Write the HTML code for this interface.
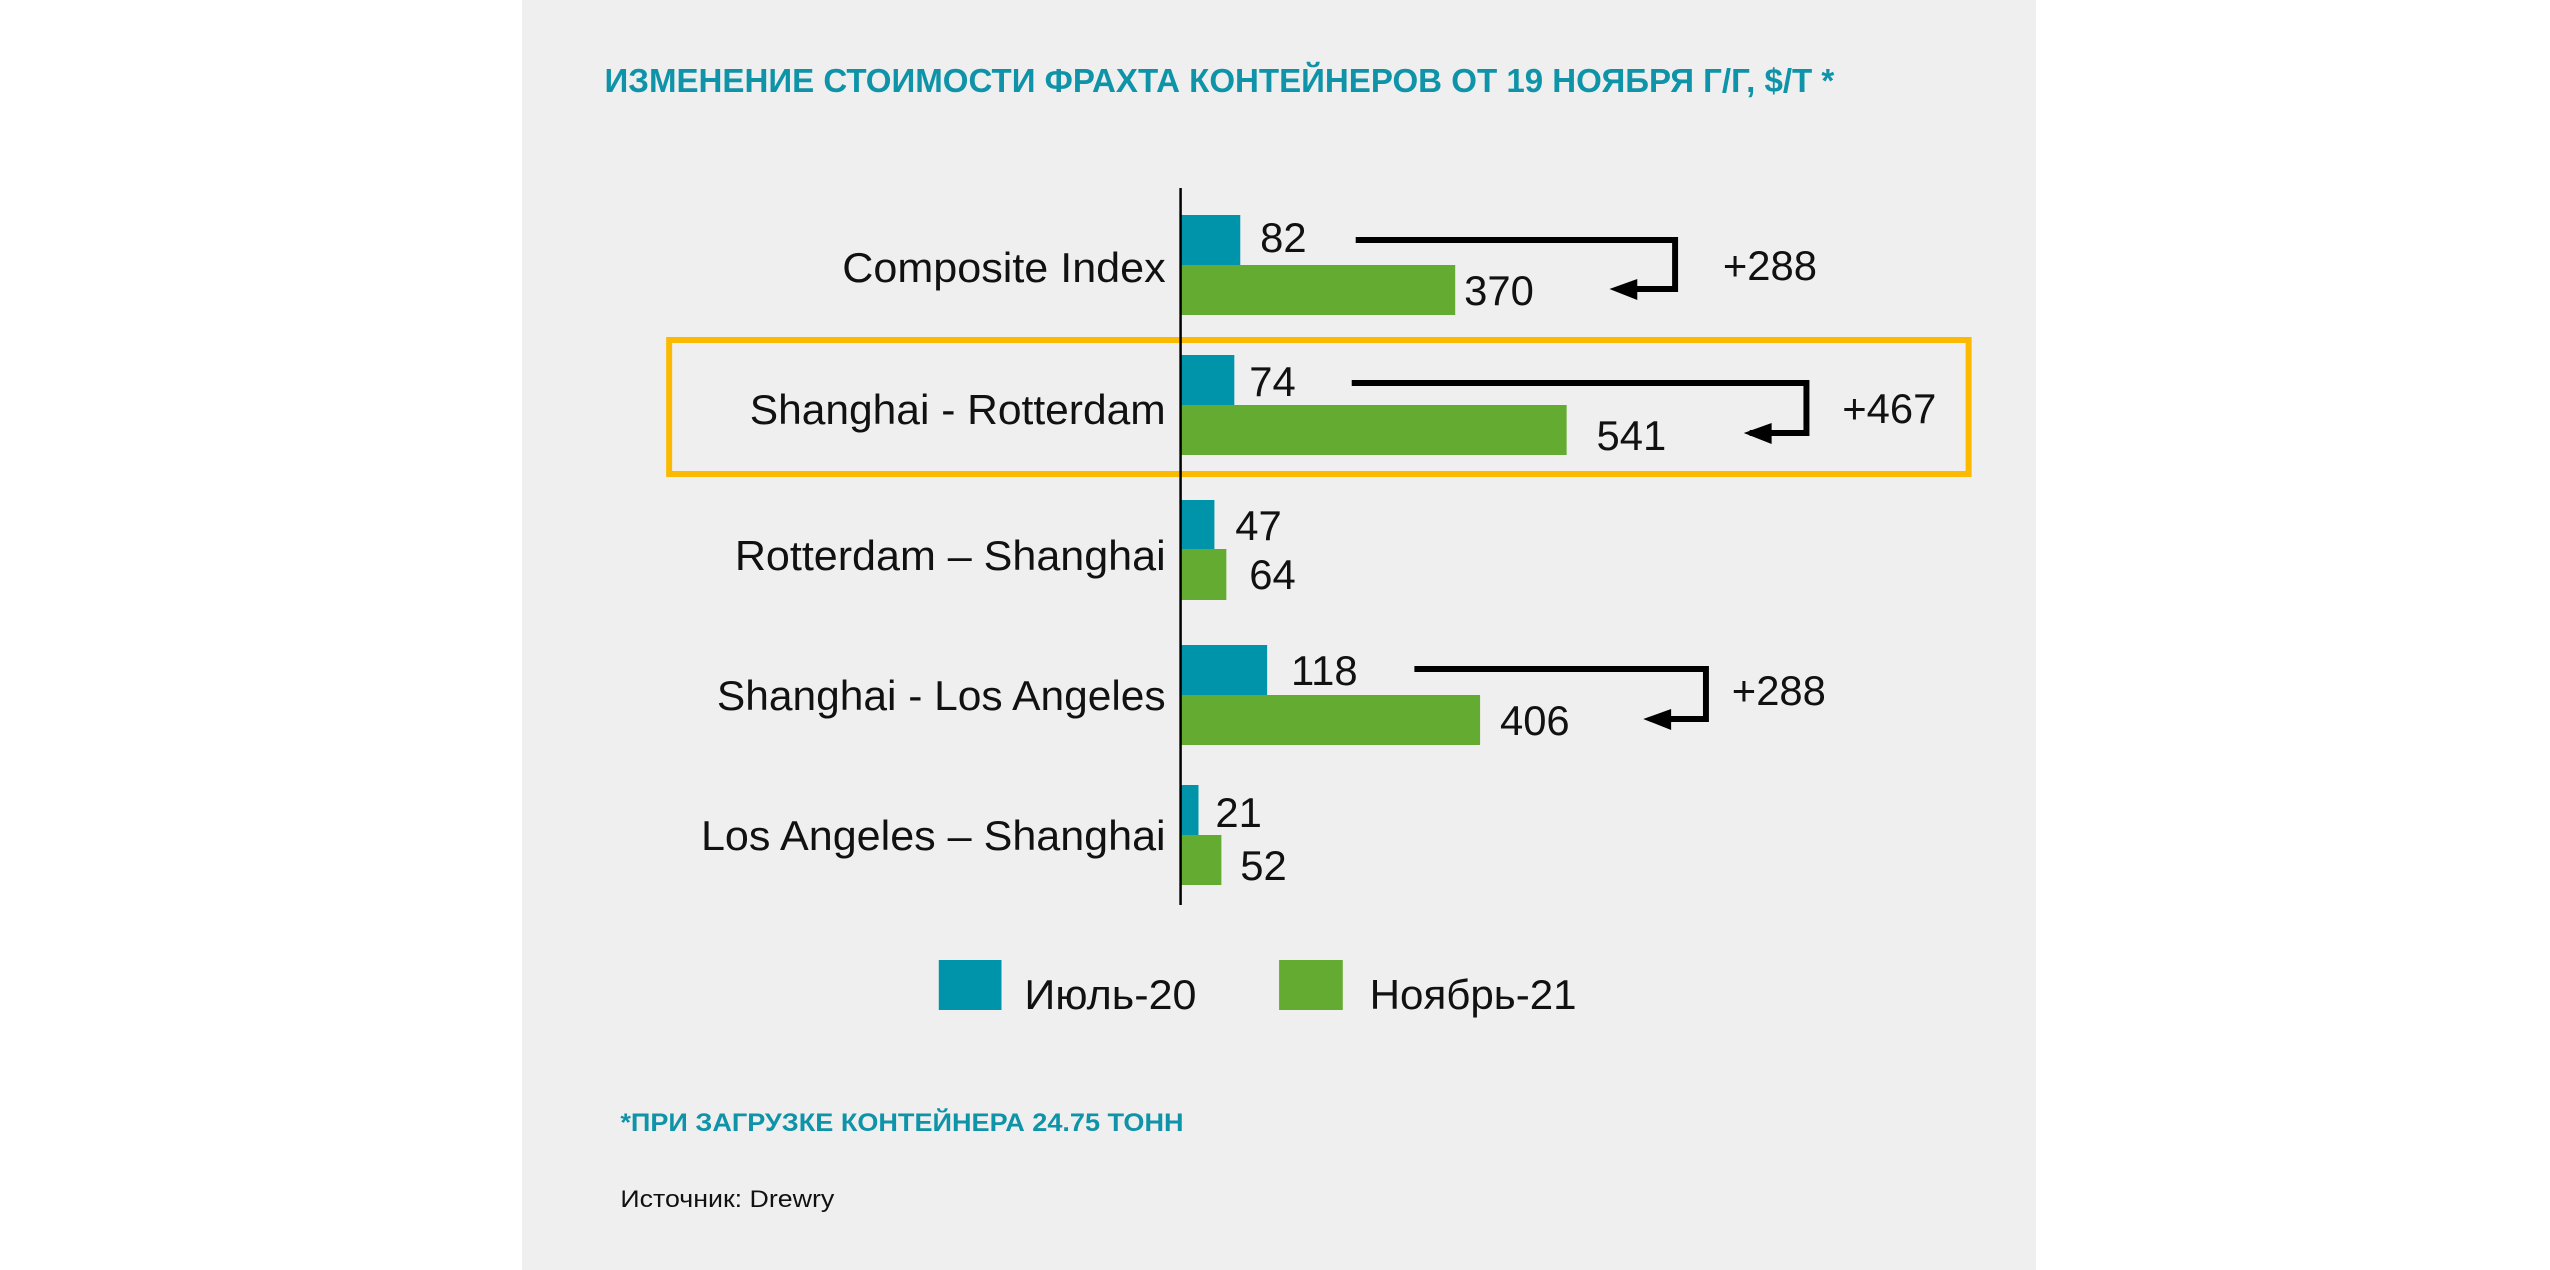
<!DOCTYPE html>
<html><head><meta charset="utf-8"><style>
html,body{margin:0;padding:0;background:#fff;}
svg{display:block;}
text{font-family:"Liberation Sans",sans-serif;}
</style></head><body>
<svg width="2550" height="1270" viewBox="0 0 2550 1270" xmlns="http://www.w3.org/2000/svg">
<rect x="0" y="0" width="2550" height="1270" fill="#fff"/>
<rect x="522" y="0" width="1514" height="1270" fill="#efefef"/>
<g transform="matrix(0.995 0 0 1 2.5 0)">
<text x="605" y="92" font-size="33" font-weight="bold" fill="#0e93a8" textLength="1236" lengthAdjust="spacingAndGlyphs">ИЗМЕНЕНИЕ СТОИМОСТИ ФРАХТА КОНТЕЙНЕРОВ ОТ 19 НОЯБРЯ Г/Г, $/T *</text>

<rect x="670" y="340" width="1306" height="134" fill="none" stroke="#fbb900" stroke-width="6"/>

<g fill="#0094aa">
<rect x="1184" y="215" width="60" height="50"/>
<rect x="1184" y="355" width="54" height="50"/>
<rect x="1184" y="500" width="34" height="49"/>
<rect x="1184" y="645" width="87" height="50"/>
<rect x="1184" y="785" width="18" height="50"/>
<rect x="941" y="960" width="63" height="50"/>
</g>
<g fill="#64ab32">
<rect x="1184" y="265" width="276" height="50"/>
<rect x="1184" y="405" width="388" height="50"/>
<rect x="1184" y="549" width="46" height="51"/>
<rect x="1184" y="695" width="301" height="50"/>
<rect x="1184" y="835" width="41" height="50"/>
<rect x="1283" y="960" width="64" height="50"/>
</g>
<line x1="1184" y1="188" x2="1184" y2="905" stroke="#000" stroke-width="2.5"/>

<g font-size="42" fill="#111" text-anchor="end">
<text x="1169" y="282" textLength="325" lengthAdjust="spacingAndGlyphs">Composite Index</text>
<text x="1169" y="424" textLength="418" lengthAdjust="spacingAndGlyphs">Shanghai - Rotterdam</text>
<text x="1169" y="570" textLength="433" lengthAdjust="spacingAndGlyphs">Rotterdam – Shanghai</text>
<text x="1169" y="710" textLength="451" lengthAdjust="spacingAndGlyphs">Shanghai - Los Angeles</text>
<text x="1169" y="850" textLength="467" lengthAdjust="spacingAndGlyphs">Los Angeles – Shanghai</text>
</g>
<g font-size="42" fill="#111">
<text x="1264" y="252">82</text>
<text x="1469" y="305">370</text>
<text x="1729" y="280">+288</text>
<text x="1253" y="396">74</text>
<text x="1602" y="450">541</text>
<text x="1849" y="423">+467</text>
<text x="1239" y="540">47</text>
<text x="1253" y="589">64</text>
<text x="1295" y="685">118</text>
<text x="1505" y="735">406</text>
<text x="1738" y="705">+288</text>
<text x="1219" y="827">21</text>
<text x="1244" y="880">52</text>
<text x="1027" y="1009" textLength="173" lengthAdjust="spacingAndGlyphs">Июль-20</text>
<text x="1374" y="1009" textLength="208" lengthAdjust="spacingAndGlyphs">Ноябрь-21</text>
</g>

<g fill="none" stroke="#000" stroke-width="6">
<polyline points="1360,240 1681,240 1681,289 1640,289"/>
<polyline points="1356,383 1813,383 1813,433 1756,433"/>
<polyline points="1419,669 1712,669 1712,719 1670,719"/>
</g>
<g fill="#000">
<polygon points="1615,289 1643,279 1643,300"/>
<polygon points="1750,433 1778,423 1778,444"/>
<polygon points="1649,719 1677,709 1677,730"/>
</g>

<text x="621" y="1131" font-size="25" font-weight="bold" fill="#0e93a8" textLength="566" lengthAdjust="spacingAndGlyphs">*ПРИ ЗАГРУЗКЕ КОНТЕЙНЕРА 24.75 ТОНН</text>
<text x="621" y="1207" font-size="24" fill="#111" textLength="215" lengthAdjust="spacingAndGlyphs">Источник: Drewry</text>
</g>
</svg>
</body></html>
